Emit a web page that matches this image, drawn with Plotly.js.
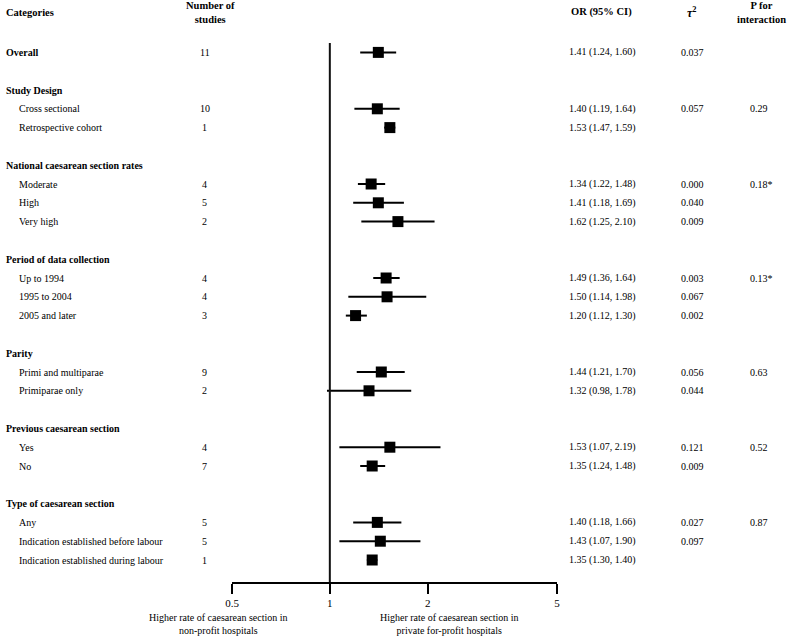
<!DOCTYPE html>
<html>
<head>
<meta charset="utf-8">
<script src="https://cdn.plot.ly/plotly-3.0.1.min.js"></script>
<style>html,body{margin:0;padding:0;background:#fff;}#chart{width:792px;height:636px;}</style>
</head>
<body>
<div id="chart"></div>
<script>
// ---- data ----
const overallLabel = 'Overall';
const overallN = 11;
const overallOR = 1.41;
const overallLo = 1.24;
const overallHi = 1.60;
const overallTau = '0.037';

const groupHeaders = ['Study Design', 'National caesarean section rates', 'Period of data collection',
  'Parity', 'Previous caesarean section', 'Type of caesarean section'];
const groupSizes = [2, 3, 3, 2, 2, 3];
const pInteraction = ['0.29', '0.18*', '0.13*', '0.63', '0.52', '0.87'];

const subgroupLabels = ['Cross sectional', 'Retrospective cohort',
  'Moderate', 'High', 'Very high',
  'Up to 1994', '1995 to 2004', '2005 and later',
  'Primi and multiparae', 'Primiparae only',
  'Yes', 'No',
  'Any', 'Indication established before labour', 'Indication established during labour'];
const nStudies = [10, 1, 4, 5, 2, 4, 4, 3, 9, 2, 4, 7, 5, 5, 1];
const orValues = [1.40, 1.53, 1.34, 1.41, 1.62, 1.49, 1.50, 1.20, 1.44, 1.32, 1.53, 1.35, 1.40, 1.43, 1.35];
const ciLower  = [1.19, 1.47, 1.22, 1.18, 1.25, 1.36, 1.14, 1.12, 1.21, 0.98, 1.07, 1.24, 1.18, 1.07, 1.30];
const ciUpper  = [1.64, 1.59, 1.48, 1.69, 2.10, 1.64, 1.98, 1.30, 1.70, 1.78, 2.19, 1.48, 1.66, 1.90, 1.40];
const tau2 = ['0.057', '', '0.000', '0.040', '0.009', '0.003', '0.067', '0.002', '0.056', '0.044', '0.121', '0.009', '0.027', '0.097', ''];

const tickValues = [0.5, 1, 2, 5];
const tickLabels = ['0.5', '1', '2', '5'];

const colHeaders = ['Categories', 'Number of<br>studies', 'OR (95% CI)', '<i>τ</i><sup>2</sup>', 'P for<br>interaction'];
const leftCaption = 'Higher rate of caesarean section in<br>non-profit hospitals';
const rightCaption = 'Higher rate of caesarean section in<br>private for-profit hospitals';

// ---- layout computation ----
const W = 792, H = 636;
const FONT = "'Liberation Serif', 'Times New Roman', serif";
const FS = 10;
const px = v => v / W;
const fmt = v => v.toFixed(2);

const ptX = [], ptY = [], errP = [], errM = [];
const ann = [];

function addText(text, xPix, row, anchor, bold) {
  ann.push({
    text: bold ? '<b>' + text + '</b>' : text,
    xref: 'paper', x: px(xPix), xanchor: anchor,
    yref: 'y', y: row, yanchor: 'middle',
    showarrow: false, font: {family: FONT, size: FS, color: '#000'}
  });
}
function addRow(row, label, bold, indentX, n, or, lo, hi, tau) {
  addText(label, indentX, row, 'left', bold);
  addText(String(n), 205, row, 'center', false);
  addText(fmt(or) + ' (' + fmt(lo) + ', ' + fmt(hi) + ')', 567, row, 'left', false);
  if (tau) addText(tau, 692, row, 'center', false);
  ptX.push(or); ptY.push(row); errP.push(hi - or); errM.push(or - lo);
}

let r = 0;
addRow(r, overallLabel, true, 4, overallN, overallOR, overallLo, overallHi, overallTau);
r += 1;
let k = 0;
groupHeaders.forEach((h, g) => {
  r += 1;                       // blank row
  addText(h, 4, r, 'left', true);
  r += 1;
  for (let i = 0; i < groupSizes[g]; i++, k++, r++) {
    addRow(r, subgroupLabels[k], false, 17, nStudies[k], orValues[k], ciLower[k], ciUpper[k], tau2[k]);
    if (i === 0) addText(pInteraction[g], 748, r, 'left', false);
  }
});

// column headers (paper coords)
const plotTop = 43, plotBottom = 582;
const paperY = pix => (plotBottom - pix) / (plotBottom - plotTop);
const hdrX = [4, 210, 601, 692, 761];
const hdrAnchor = ['left', 'center', 'center', 'center', 'center'];
const hdrSize = [10.5, 10.5, 10.5, 12, 10.5];
colHeaders.forEach((t, i) => {
  ann.push({
    text: '<b>' + t + '</b>', xref: 'paper', x: px(hdrX[i]), xanchor: hdrAnchor[i],
    yref: 'paper', y: paperY(12), yanchor: 'middle', showarrow: false,
    font: {family: FONT, size: hdrSize[i], color: '#000'}
  });
});
[[leftCaption, 219], [rightCaption, 449]].forEach(([t, x]) => {
  ann.push({
    text: t, xref: 'paper', x: px(x), xanchor: 'center',
    yref: 'paper', y: paperY(624), yanchor: 'middle', showarrow: false,
    font: {family: FONT, size: FS, color: '#000'}
  });
});

// row axis range so that row spacing ~18.8 px
const rowStep = 18.8;
const topRow = -0.5;
const bottomRow = topRow + (plotBottom - plotTop) / rowStep;

const trace = {
  type: 'scatter', mode: 'markers', x: ptX, y: ptY,
  marker: {symbol: 'square', size: 11, color: '#000'},
  error_x: {type: 'data', symmetric: false, array: errP, arrayminus: errM,
            width: 0, thickness: 2, color: '#000'},
  cliponaxis: false, hoverinfo: 'skip'
};

const layout = {
  width: W, height: H,
  margin: {l: 0, r: 0, t: plotTop, b: H - plotBottom, pad: 0},
  paper_bgcolor: '#fff', plot_bgcolor: '#fff',
  showlegend: false,
  font: {family: FONT, size: FS, color: '#000'},
  xaxis: {
    type: 'log', range: [Math.log10(0.5), Math.log10(5)],
    domain: [px(232), px(557)],
    tickvals: tickValues, ticktext: tickLabels,
    ticks: 'outside', ticklen: 10, tickwidth: 2, tickcolor: '#000',
    showline: true, linewidth: 2, linecolor: '#000',
    showgrid: false, zeroline: false,
    tickfont: {family: FONT, size: 11, color: '#000'}
  },
  yaxis: {range: [bottomRow, topRow], visible: false, showgrid: false, zeroline: false},
  shapes: [{type: 'line', xref: 'x', x0: 1, x1: 1, yref: 'paper', y0: 0, y1: 1,
            line: {color: '#111', width: 2}}],
  annotations: ann
};

Plotly.newPlot('chart', [trace], layout, {staticPlot: true, displayModeBar: false});
</script>
</body>
</html>
